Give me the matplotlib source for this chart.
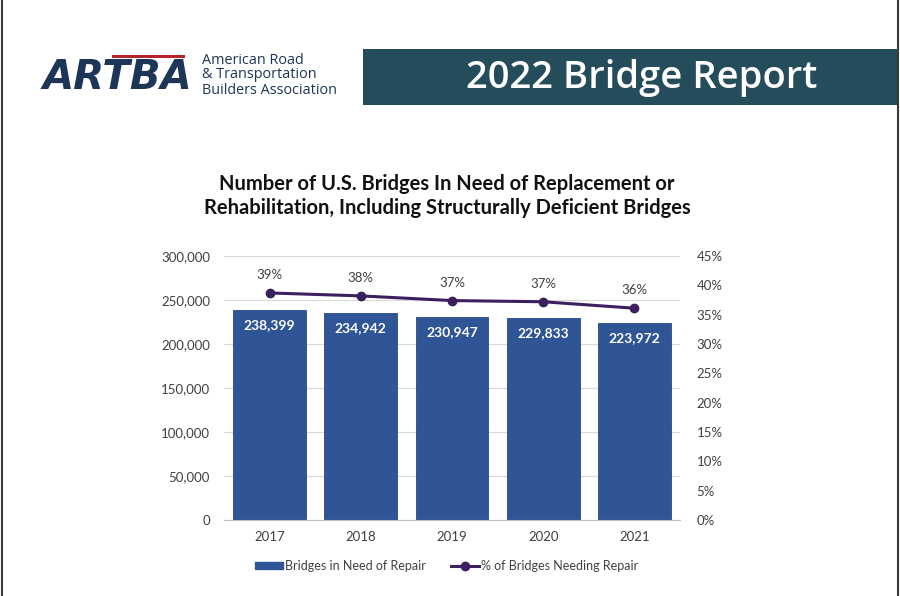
import numpy as np
import matplotlib
matplotlib.use("Agg")
import matplotlib.pyplot as plt
from matplotlib.patches import Rectangle
from matplotlib.lines import Line2D
from matplotlib.ticker import FuncFormatter, MultipleLocator

# datos del grafico
years = ["2017", "2018", "2019", "2020", "2021"]
bridges = [238399, 234942, 230947, 229833, 223972]
pct_values = [38.7, 38.2, 37.4, 37.2, 36.1]
pct_labels = ["39%", "38%", "37%", "37%", "36%"]

W, H = 900, 596
fig = plt.figure(figsize=(W / 100, H / 100), dpi=100)
fig.patch.set_facecolor("white")


def px(x, y):
    # pixeles (origen arriba-izquierda) a coordenadas de figura
    return x / W, 1 - y / H


# borde de pagina
fig.add_artist(Line2D([1.5 / W, 1.5 / W], [0, 1], color="#3a3a3a", lw=1.5))
fig.add_artist(Line2D([897.5 / W, 897.5 / W], [0, 1], color="#3a3a3a", lw=1.5))

# banner
bx, by = px(363, 105)
fig.add_artist(Rectangle((bx, by), (898 - 363) / W, 56 / H,
                         transform=fig.transFigure, color="#254c5a", lw=0))
fig.text(*px(642, 78), "2022 Bridge Report", color="white", fontsize=27.5,
         family="Open Sans", weight="semibold", ha="center", va="center")

# logo
navy = "#1d3557"
fig.add_artist(Rectangle(px(112, 58), 73 / W, 3 / H, transform=fig.transFigure,
                         color="#b5252a", lw=0))
fig.text(*px(117, 78), "ARTBA", color=navy, fontsize=29, family="DejaVu Sans",
         weight="heavy", style="italic", ha="center", va="center")
for i, line in enumerate(["American Road", "& Transportation", "Builders Association"]):
    fig.text(*px(202, 60 + i * 15), line, color=navy, fontsize=10.4,
             family="Open Sans", ha="left", va="center")

# titulo
fig.text(*px(447, 196), "Number of U.S. Bridges In Need of Replacement or\n"
         "Rehabilitation, Including Structurally Deficient Bridges",
         fontsize=14.5, weight="bold", family="Lato", color="#111111",
         ha="center", va="center", linespacing=1.3)

# ejes
ax = fig.add_axes([224 / W, (H - 520) / H, 456 / W, 264 / H])
x = np.arange(len(years))
bars = ax.bar(x, bridges, width=0.8, color="#2f5597", edgecolor="#27497f",
              lw=0.6, zorder=2)
ax.set_ylim(0, 300000)
ax.set_xlim(-0.5, len(years) - 0.5)
ax.yaxis.set_major_locator(MultipleLocator(50000))
ax.yaxis.set_major_formatter(FuncFormatter(lambda v, p: f"{int(v):,}"))
ax.grid(axis="y", color="#d9d9d9", lw=0.8, zorder=0)
ax.set_xticks(x)
ax.set_xticklabels(years)
for s in ["top", "right", "left"]:
    ax.spines[s].set_visible(False)
ax.spines["bottom"].set_color("#bfbfbf")
ax.tick_params(axis="both", length=0, labelsize=9.5, labelcolor="#404040")
ax.tick_params(axis="y", pad=10)
ax.tick_params(axis="x", pad=8)
for lab in ax.get_xticklabels() + ax.get_yticklabels():
    lab.set_family("Lato")

for b, v in zip(bars, bridges):
    ax.annotate(f"{v:,}", (b.get_x() + b.get_width() / 2, v), xytext=(0, -11),
                textcoords="offset points", ha="center", va="center",
                color="white", weight="bold", fontsize=10, family="Lato")

ax2 = ax.twinx()
ax2.set_ylim(0, 45)
ax2.yaxis.set_major_locator(MultipleLocator(5))
ax2.yaxis.set_major_formatter(FuncFormatter(lambda v, p: f"{int(v)}%"))
for s in ["top", "right", "left", "bottom"]:
    ax2.spines[s].set_visible(False)
ax2.tick_params(axis="y", length=0, labelsize=9.5, labelcolor="#404040", pad=12)
for lab in ax2.get_yticklabels():
    lab.set_family("Lato")
line_color = "#3b1f5e"
ax2.plot(x, pct_values, color=line_color, lw=2.2, marker="o", markersize=6,
         zorder=3)
for xi, v, t in zip(x, pct_values, pct_labels):
    ax2.annotate(t, (xi, v), xytext=(0, 13), textcoords="offset points",
                 ha="center", va="center", fontsize=9.5, color="#404040",
                 family="Lato")

# leyenda
handles = [Rectangle((0, 0), 1, 1, color="#2f5597"),
           Line2D([], [], color=line_color, lw=2.2, marker="o", markersize=6)]
fig.legend(handles, ["Bridges in Need of Repair", "% of Bridges Needing Repair"],
           loc="center", bbox_to_anchor=px(447, 566), ncol=2, frameon=False,
           prop={"family": "Lato", "size": 9}, labelcolor="#404040",
           handlelength=2.2, handleheight=0.5, columnspacing=2.0,
           handletextpad=0.2)

fig.savefig("out.png", dpi=100)
